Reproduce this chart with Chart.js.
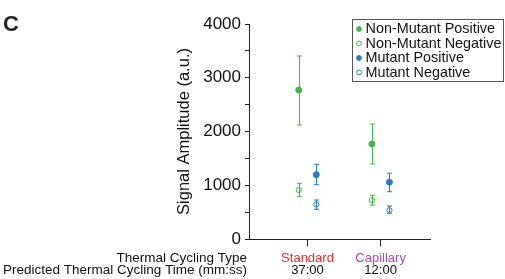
<!DOCTYPE html>
<html>
<head>
<meta charset="utf-8">
<script src="https://cdn.jsdelivr.net/npm/chart.js@4"></script>
<style>
  html, body { margin: 0; padding: 0; background: #fff; }
  #wrap { width: 505px; height: 279px; }
</style>
</head>
<body>
<div id="wrap"><canvas id="chart"></canvas></div>
<script>
const categories = ['Standard', 'Capillary'];
const cycleTimes = ['37:00', '12:00'];
const categoryColors = ['#ee2a2e', '#a650b9'];
const rowHeaders = ['Thermal Cycling Type', 'Predicted Thermal Cycling Time (mm:ss)'];

const seriesNames = ['Non-Mutant Positive', 'Non-Mutant Negative', 'Mutant Positive', 'Mutant Negative'];

const nonMutPosMean = [2772, 1767];
const nonMutPosLow = [2121, 1395];
const nonMutPosHigh = [3405, 2140];

const nonMutNegMean = [912, 722];
const nonMutNegLow = [787, 630];
const nonMutNegHigh = [1036, 815];

const mutPosMean = [1197, 1056];
const mutPosLow = [1011, 880];
const mutPosHigh = [1389, 1225];

const mutNegMean = [645, 536];
const mutNegLow = [552, 478];
const mutNegHigh = [726, 614];

const yTicks = [0, 1000, 2000, 3000, 4000];

const green = '#45b54a';
const blue = '#2e7bc0';
const font = 'Liberation Sans, Arial, Helvetica, sans-serif';

// green sits left of the category, blue right of it
const toPoints = (means, shift) => means.map((v, i) => ({ x: i + 1 + shift, y: v }));

const makeSet = (label, means, low, high, color, filled, shift) => ({
  label: label,
  data: toPoints(means, shift),
  errLow: low,
  errHigh: high,
  borderColor: color,
  backgroundColor: filled ? color : 'rgba(0,0,0,0)',
  pointBackgroundColor: filled ? color : 'rgba(0,0,0,0)',
  pointBorderColor: color,
  pointBorderWidth: 1,
  pointRadius: filled ? 3 : 2.6,
  showLine: false,
});

const errorBars = {
  id: 'errorBars',
  beforeDatasetsDraw(chart) {
    const ctx = chart.ctx;
    const yScale = chart.scales.y;
    ctx.save();
    ctx.lineWidth = 1;
    chart.data.datasets.forEach((ds, di) => {
      const meta = chart.getDatasetMeta(di);
      ctx.strokeStyle = ds.borderColor;
      meta.data.forEach((pt, i) => {
        const x = Math.round(pt.x) + 0.5;
        const top = yScale.getPixelForValue(ds.errHigh[i]);
        const bot = yScale.getPixelForValue(ds.errLow[i]);
        ctx.beginPath();
        ctx.moveTo(x, top);
        ctx.lineTo(x, bot);
        ctx.moveTo(x - 2.5, top);
        ctx.lineTo(x + 2.5, top);
        ctx.moveTo(x - 2.5, bot);
        ctx.lineTo(x + 2.5, bot);
        ctx.stroke();
      });
    });
    ctx.restore();
  }
};

const extras = {
  id: 'extras',
  afterDraw(chart) {
    const ctx = chart.ctx;
    const xScale = chart.scales.x;
    const area = chart.chartArea;
    ctx.save();

    // panel letter
    ctx.fillStyle = '#222';
    ctx.font = 'bold 22px ' + font;
    ctx.textAlign = 'left';
    ctx.textBaseline = 'alphabetic';
    ctx.fillText('C', 3, 31);

    // row headers under the axis
    ctx.font = '13.5px ' + font;
    ctx.textAlign = 'right';
    ctx.textBaseline = 'middle';
    ctx.fillStyle = '#111';
    ctx.fillText(rowHeaders[0], area.left - 2, 258.5);
    ctx.fillText(rowHeaders[1], area.left - 2, 270.5);

    // second line of category labels
    ctx.font = '13px ' + font;
    ctx.textAlign = 'center';
    cycleTimes.forEach((t, i) => {
      ctx.fillText(t, xScale.getPixelForValue(i + 1), 270.5);
    });

    // legend box
    const lx = 352.5, ly = 19.5, lw = 151, lh = 62;
    ctx.strokeStyle = '#555';
    ctx.lineWidth = 1;
    ctx.strokeRect(lx, ly, lw, lh);
    ctx.font = '14.4px ' + font;
    ctx.textAlign = 'left';
    chart.data.datasets.forEach((ds, i) => {
      const cy = 29 + i * 14.5;
      ctx.beginPath();
      ctx.arc(359, cy, 2.4, 0, Math.PI * 2);
      ctx.fillStyle = ds.pointBackgroundColor;
      ctx.fill();
      ctx.strokeStyle = ds.pointBorderColor;
      ctx.lineWidth = 1;
      ctx.stroke();
      ctx.fillStyle = '#111';
      ctx.fillText(ds.label, 365.5, cy + 0.5);
    });
    ctx.restore();
  }
};

const chart = new Chart(document.getElementById('chart'), {
  type: 'scatter',
  data: {
    datasets: [
      makeSet(seriesNames[0], nonMutPosMean, nonMutPosLow, nonMutPosHigh, green, true, -0.12),
      makeSet(seriesNames[1], nonMutNegMean, nonMutNegLow, nonMutNegHigh, green, false, -0.12),
      makeSet(seriesNames[2], mutPosMean, mutPosLow, mutPosHigh, blue, true, 0.12),
      makeSet(seriesNames[3], mutNegMean, mutNegLow, mutNegHigh, blue, false, 0.12),
    ],
  },
  options: {
    responsive: true,
    maintainAspectRatio: false,
    animation: false,
    devicePixelRatio: 1,
    layout: { padding: { left: 170, right: 75, top: 24, bottom: 0 } },
    plugins: {
      legend: { display: false },
      tooltip: { enabled: false },
    },
    scales: {
      x: {
        type: 'linear',
        min: 0.2,
        max: 2.675,
        afterBuildTicks: (scale) => {
          scale.ticks = categories.map((c, i) => ({ value: i + 1 }));
        },
        afterFit: (scale) => { scale.height = 40; },
        ticks: {
          autoSkip: false,
          maxRotation: 0,
          padding: 5,
          font: { family: font, size: 13 },
          color: (ctx) => categoryColors[ctx.index],
          callback: (v) => categories[Math.round(v) - 1],
        },
        grid: { drawOnChartArea: false, tickLength: 7, color: '#222' },
        border: { color: '#222', width: 1 },
      },
      y: {
        min: 0,
        max: 4000,
        afterBuildTicks: (scale) => {
          const t = [];
          for (let v = 0; v <= 4000; v += 500) t.push({ value: v });
          scale.ticks = t;
        },
        afterFit: (scale) => { scale.width = 79; },
        ticks: {
          padding: 4,
          font: { family: font, size: 17 },
          color: '#111',
          callback: (v) => (yTicks.includes(v) ? String(v) : ''),
        },
        grid: { drawOnChartArea: false, tickLength: 4, color: '#222' },
        border: { color: '#222', width: 1 },
        title: {
          display: true,
          text: 'Signal Amplitude (a.u.)',
          font: { family: font, size: 16.5 },
          color: '#111',
          padding: { top: 4.6, bottom: 0 },
        },
      },
    },
  },
  plugins: [errorBars, extras],
});
</script>
</body>
</html>
